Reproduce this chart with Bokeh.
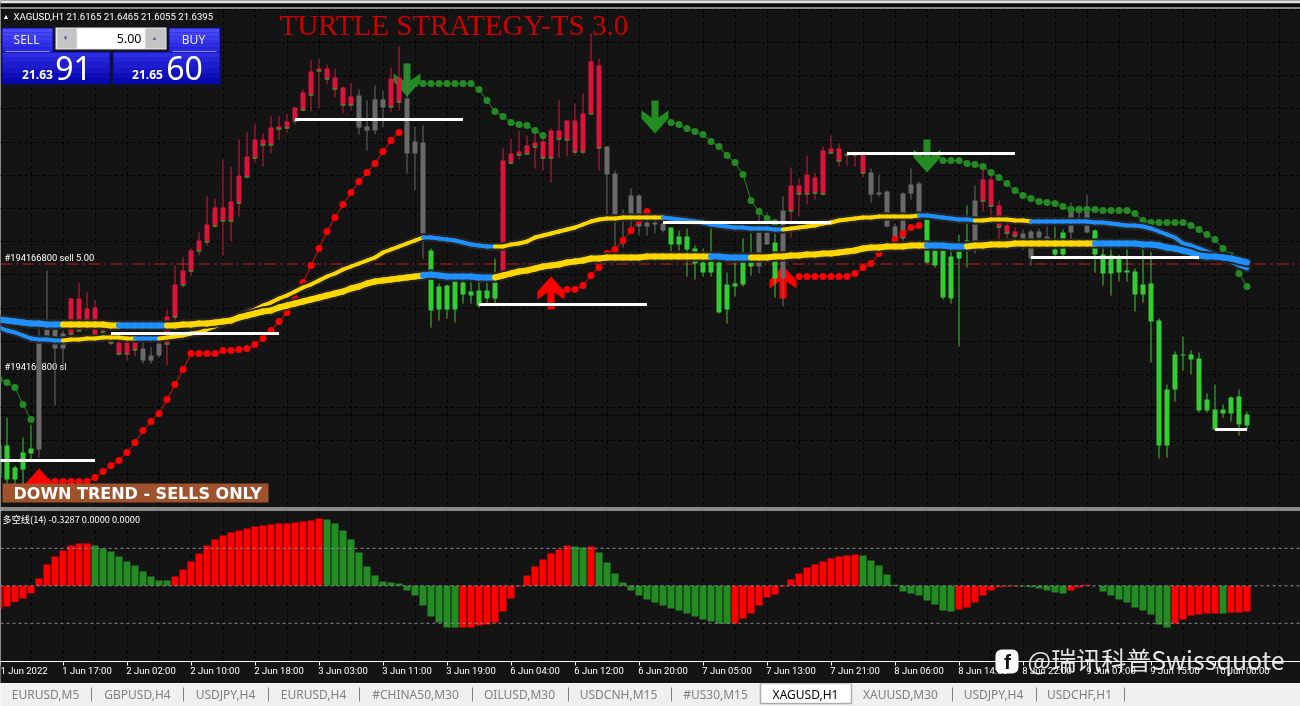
from bokeh.plotting import figure
from bokeh.layouts import column
from bokeh.models import Range1d, FixedTicker, Grid, Span, Label, BoxAnnotation, LinearAxis, AllLabels
from bokeh.embed import file_html
from bokeh.resources import INLINE
import numpy as np

# ---------- data: prices in points above 21.000 USD (1 point = 0.001), bars start at index -1 ----------
body_top = [578,578,534,564,572,796,810,810,802,872,872,852,854,808,798,784,784,784,772,758,782,836,900,928,968,988,1020,1054,1054,1066,1118,1156,1190,1190,1214,1216,1226,1254,1284,1326,1332,1332,1314,1294,1276,1278,1216,1270,1270,1312,1314,1272,1186,1184,968,896,898,906,904,886,888,888,904,1148,1162,1166,1178,1184,1186,1208,1208,1228,1228,1242,1346,1338,1176,1122,1038,1078,1078,1024,1024,1022,1014,996,996,972,944,946,944,900,902,944,944,1004,1004,984,1048,1098,1098,1120,1114,1168,1172,1172,1162,1162,1162,1124,1084,1086,1016,1082,1100,1102,1030,968,968,956,966,988,1068,1110,1110,1058,1018,1006,1002,1006,1006,996,970,1004,1056,1056,1056,1008,960,958,956,928,926,900,902,828,690,760,760,760,752,670,650,650,674,676,640]
body_bot = [514,510,510,530,562,570,796,772,772,802,808,830,800,806,784,762,762,770,748,748,758,782,836,900,928,968,986,1018,1028,1028,1064,1116,1154,1180,1180,1212,1214,1228,1250,1280,1328,1312,1292,1260,1260,1214,1208,1208,1254,1256,1266,1162,1162,1002,848,850,850,850,880,878,858,872,872,924,1144,1160,1162,1176,1154,1154,1192,1190,1166,1166,1242,1174,1120,1040,1028,1040,1016,1016,1020,1008,980,980,970,942,924,924,844,850,896,900,936,936,980,912,912,1048,1082,1082,1084,1082,1164,1148,1160,1160,1124,1080,1080,1016,992,992,1082,1044,944,938,874,872,952,986,986,1068,1058,1016,1004,998,990,952,994,990,960,960,1004,1044,1004,960,922,922,924,924,880,880,826,578,578,690,758,750,648,648,610,642,642,620,618]
wick_high = [588,634,538,594,620,810,928,810,808,872,904,884,870,810,798,784,784,784,784,776,782,850,938,954,972,1004,1076,1072,1150,1136,1190,1204,1222,1202,1236,1236,1242,1254,1290,1348,1352,1340,1332,1296,1304,1290,1268,1298,1288,1334,1376,1342,1216,1218,972,902,900,908,908,904,904,904,952,1172,1192,1208,1198,1204,1204,1212,1268,1228,1262,1282,1402,1352,1176,1128,1050,1092,1080,1028,1026,1024,1014,1008,1012,978,972,1014,952,924,944,992,1002,1054,1044,1002,1076,1134,1112,1158,1124,1176,1198,1182,1166,1166,1166,1132,1120,1088,1022,1084,1132,1106,1030,978,972,966,1000,1058,1098,1144,1130,1068,1038,1014,1010,1010,1012,1016,1016,1010,1064,1058,1080,1010,972,970,960,970,932,990,966,832,700,766,796,768,764,682,700,660,676,690,646]
wick_low = [502,488,488,488,550,554,796,658,728,798,806,808,798,802,778,758,748,756,742,742,754,738,814,894,916,958,978,1014,958,986,1036,1112,1144,1136,1162,1190,1204,1220,1246,1246,1252,1300,1274,1242,1248,1200,1168,1200,1214,1244,1248,1122,1088,952,814,828,832,824,862,862,854,864,862,924,1140,1150,1160,1132,1128,1104,1154,1156,1158,1160,1242,1128,1038,968,974,1012,998,998,1002,1004,966,968,916,910,916,916,842,822,876,896,918,922,980,874,856,994,1036,1060,1070,1078,1160,1136,1138,1136,1114,1064,1076,1014,986,986,1070,1028,942,934,870,862,776,934,962,1046,1038,990,992,990,968,938,990,990,954,954,988,1032,1002,924,898,878,906,906,846,864,744,552,554,666,728,720,644,644,608,634,626,598,610]
candle_kind = "g"*5+"k"*4+"r"*9+"k"*3+"r"*24+"k"*4+"r"*2+"k"*3+"g"*9+"r"*13+"k"*8+"g"*11+"k"*2+"g"+"k"+"r"*10+"k"*7+"g"*6+"k"+"r"*5+"k"*4+"g"*2+"k"*3+"g"*20

ma_thick = [830,828,826,824,822,822,820,820,820,820,820,820,820,820,818,818,818,818,818,818,818,818,818,820,820,822,822,824,826,828,834,838,842,846,848,854,858,862,866,870,874,878,882,886,892,896,902,906,908,910,912,914,916,918,920,918,916,916,916,916,914,914,914,918,922,926,928,932,936,938,940,944,946,948,952,952,954,954,954,954,954,956,956,956,956,956,956,956,956,956,956,954,954,954,954,954,954,956,956,958,958,960,960,962,962,964,966,968,972,974,974,976,976,976,978,978,978,978,978,976,976,976,978,978,980,980,980,982,982,982,982,982,982,982,982,982,982,982,982,982,982,982,982,980,980,978,974,972,968,964,958,956,956,954,952,948,944]
ma_thin = [814,808,804,798,792,790,790,788,788,790,790,792,792,794,794,794,792,792,792,792,792,794,796,798,802,804,810,816,822,830,836,844,850,858,864,872,878,886,894,900,908,916,922,930,936,942,948,954,964,970,976,982,988,994,994,992,990,988,984,980,978,976,976,976,980,982,986,994,998,1002,1006,1010,1014,1020,1026,1030,1032,1032,1034,1034,1034,1034,1034,1034,1032,1030,1028,1026,1024,1020,1018,1016,1014,1014,1012,1012,1012,1010,1010,1012,1014,1016,1018,1022,1024,1028,1030,1032,1034,1034,1036,1036,1036,1036,1036,1038,1038,1036,1034,1032,1030,1030,1028,1028,1030,1030,1030,1028,1028,1026,1026,1026,1026,1026,1026,1026,1026,1024,1024,1022,1020,1018,1018,1016,1012,1006,1000,994,982,978,972,966,960,952,946,938,932]
thick_blue_runs = [(-1,7),(14,20),(52,61),(88,93),(115,120),(136,155)]
thin_blue_runs = [(-1,7),(16,19),(52,61),(82,97),(114,121),(128,155)]

red_trail_1_start = 5
red_trail_1 = [506,506,506,506,506,506,514,526,538,548,564,584,608,626,642,670,700,730,762,762,762,762,768,768,770,772,780,792,808,826,844,872,904,938,972,1006,1034,1060,1084,1106,1124,1142,1166,1188,1204]
red_trail_2_start = 70
red_trail_2 = [890,890,898,918,934,962,970,988,1008,1028,1046]
red_trail_3_start = 99
red_trail_3 = [916,916,916,916,916,916,916,922,934,942,962,978,990,1002,1014,1018]
green_trail_1_start = -1
green_trail_1 = [710,704,694,660,630]
green_trail_2_start = 51
green_trail_2 = [1302,1302,1302,1302,1302,1302,1302,1302,1290,1268,1246,1236,1224,1220,1218,1208,1198]
green_trail_3_start = 83
green_trail_3 = [1224,1220,1212,1206,1200,1186,1176,1158,1144,1120,1068,1046,1032,1024]
green_trail_4_start = 117
green_trail_4 = [1148,1148,1148,1142,1140,1136,1124,1114,1102,1088,1078,1072,1066,1064,1062,1056,1050,1050,1050,1050,1048,1048,1048,1048,1042,1028,1024,1024,1024,1024,1024,1018,1010,1000,990,972,958,922,896]

down_arrow_bar = [50,81,115]
down_arrow_price = [1342,1268,1190]
up_arrow_bar = [4,68,97]
up_arrow_price = [532,916,938]

level_start = [-10,13,36,59,82,105,128,151]
level_end = [11,34,57,80,103,126,149,155]
level_price = [548,802,1230,860,1024,1162,954,610]
order_price = 941
bid_price = 639

osc = [-295,-265,-209,-162,-94,94,273,376,453,517,542,542,517,478,440,376,312,260,184,120,68,68,120,209,312,414,517,594,645,683,709,734,760,773,786,798,798,811,824,837,863,850,798,709,594,427,248,132,56,43,30,-60,-124,-252,-393,-470,-534,-534,-534,-534,-508,-495,-470,-329,-162,-9,132,248,337,414,465,517,504,491,504,427,299,158,43,-60,-124,-175,-214,-252,-290,-316,-354,-393,-431,-457,-487,-487,-483,-418,-354,-252,-149,-111,-9,81,158,235,273,312,350,376,389,401,389,325,260,145,13,-73,-98,-124,-188,-239,-316,-329,-303,-278,-214,-124,-60,-17,-9,-9,-9,-17,-34,-60,-85,-98,-60,-21,13,0,-73,-124,-175,-214,-278,-316,-367,-495,-534,-483,-431,-380,-367,-354,-354,-354,-342,-342,-329]
osc_red_runs = [(-1,10),(21,39),(57,70),(73,73),(91,106),(119,126),(133,135),(146,151),(153,155)]
osc_levels = [480,0,-480]

tick_bars = [-0.8,7,15,23,31,39,47,55,63,71,79,87,95,103,111,119,127,135,143,151]
tick_labels = ["1 Jun 2022","1 Jun 17:00","2 Jun 02:00","2 Jun 10:00","2 Jun 18:00","3 Jun 03:00","3 Jun 11:00","3 Jun 19:00","6 Jun 04:00","6 Jun 12:00","6 Jun 20:00","7 Jun 05:00","7 Jun 13:00","7 Jun 21:00","8 Jun 06:00","8 Jun 14:00","8 Jun 22:00","9 Jun 07:00","9 Jun 15:00","10 Jun 00:00"]
tab_names = ["EURUSD,M5","GBPUSD,H4","USDJPY,H4","EURUSD,H4","#CHINA50,M30","OILUSD,M30","USDCNH,M15","#US30,M15","XAGUSD,H1","XAUUSD,M30","USDJPY,H4","USDCHF,H1"]
tab_centers = [45,137,225,313,415,519,618,715,805,900,993,1079]
tab_separators = [91,183,268,359,472,568,671,952,1036,1124]

BG = "#141414"
RED, GREEN, GRAY = "#DC143C", "#32CD32", "#696969"
YEL, BLUE = "#FFD700", "#1E90FF"

bars = np.arange(-1, 156)
for arr in (body_top, body_bot, wick_high, wick_low, ma_thick, ma_thin, osc):
    assert len(arr) == 157, len(arr)
assert len(candle_kind) == 157

x_range = Range1d(-0.8125, -0.8125 + 1300 / 8)

# helpers turning window pixels into the panes' data space, for chrome only
X = lambda px: px / 8 - 0.8125
Y = lambda py: 1468 - 2 * py
OY = lambda py: (585.3 - py) * 12.81

def box(p, yf, l, r, t, b, color, **kw):
    p.add_layout(BoxAnnotation(left=X(l), right=X(r), top=yf(t), bottom=yf(b), fill_color=color,
                               fill_alpha=kw.pop("alpha", 1), line_color=kw.pop("line", None), **kw))

def txt(p, yf, px, py, s, size, color="white", font="Roboto", style="normal", align="left", level="annotation", alpha=1.0):
    p.add_layout(Label(x=X(px), y=yf(py), text=s, text_font=font, text_font_size=f"{size}px", text_color=color,
                       text_font_style=style, text_align=align, text_baseline="middle", level=level, text_alpha=alpha))

# ---------- main pane ----------
main = figure(width=1300, height=510, x_range=x_range, y_range=Range1d(Y(510), Y(0)), output_backend="svg",
              toolbar_location=None, tools="", x_axis_location=None, y_axis_location=None, min_border=0,
              background_fill_color=BG, border_fill_color=BG, outline_line_color=None)
main.grid.visible = False
main.add_layout(Grid(dimension=0, ticker=FixedTicker(ticks=list(range(3, 160, 4))), grid_line_color="black", grid_line_dash="3 3"))
main.add_layout(Grid(dimension=1, ticker=FixedTicker(ticks=list(np.arange(520.8, 1460, 66.4))), grid_line_color="black", grid_line_dash="3 3"))
main.add_layout(Span(location=order_price, dimension="width", line_color="#C81E1E", line_width=1, line_dash="12 4 2 4", level="underlay"))
main.add_layout(Span(location=bid_price, dimension="width", line_color="black", line_width=1, level="underlay"))

txt(main, Y, 4, 257, "#194166800 sell 5.00", 9.3, level="underlay")
txt(main, Y, 4, 366, "#194166800 sl", 9.3, level="underlay")

# arrows (shape in bars / points around an anchor bar and price)
dn_x = np.array([-3.5,3.5,3.5,13.5,13.5,0,-13.5,-13.5,-3.5]) / 8
dn_y = np.array([0,0,17,10,18,33,18,10,17]) * 2.0
main.patches([list(b + dn_x) for b in down_arrow_bar], [list(v - dn_y) for v in down_arrow_price], fill_color="#228B22", line_color=None)
main.patches([list(b + dn_x) for b in up_arrow_bar], [list(v - 66 + dn_y) for v in up_arrow_price], fill_color="#FF0000", line_color=None)

# candles
colors = {"r": RED, "g": GREEN, "k": GRAY}
cc = [colors[k] for k in candle_kind]
main.segment(bars, wick_low, bars, wick_high, line_color=cc, line_width=1)
main.vbar(bars, 0.625, body_bot, body_top, fill_color=cc, line_color=None)
rr = [i for i, k in enumerate(candle_kind) if k == "r"]
gg = [i for i, k in enumerate(candle_kind) if k == "g"]
main.quad(left=[bars[i] - 0.3125 for i in rr], right=[bars[i] + 0.3125 for i in rr], top=[body_bot[i] for i in rr],
          bottom=[body_bot[i] - 2 for i in rr], fill_color=GREEN, line_color=None)
main.quad(left=[bars[i] - 0.0625 for i in gg], right=[bars[i] + 0.0625 for i in gg], top=[wick_low[i] + 2 for i in gg],
          bottom=[wick_low[i] for i in gg], fill_color="#FF0000", line_color=None)

# trailing dots
for start, vals, col in [(red_trail_1_start, red_trail_1, "#FF0000"), (red_trail_2_start, red_trail_2, "#FF0000"),
                         (red_trail_3_start, red_trail_3, "#FF0000"), (green_trail_1_start, green_trail_1, "#228B22"),
                         (green_trail_2_start, green_trail_2, "#228B22"), (green_trail_3_start, green_trail_3, "#228B22"),
                         (green_trail_4_start, green_trail_4, "#228B22")]:
    xs = list(range(start, start + len(vals)))
    main.line(xs, vals, line_color=col, line_width=1)
    main.scatter(xs, vals, size=7, fill_color=col, line_color=None)

# moving averages
def in_runs(i, runs):
    return any(a <= i <= b for a, b in runs)

for vals, runs, w in [(ma_thin, thin_blue_runs, 4), (ma_thick, thick_blue_runs, 6)]:
    x0, x1 = bars[:-1], bars[1:]
    y0, y1 = vals[:-1], vals[1:]
    main.segment(x0, y0, x1, y1, line_color="#262626", line_width=w + 4, line_cap="round")
    cols = [BLUE if (in_runs(i, runs) and in_runs(i + 1, runs)) else YEL for i in x0]
    main.segment(x0, y0, x1, y1, line_color=cols, line_width=w, line_cap="round")

# white level lines
main.segment(level_start, level_price, level_end, level_price, line_color="white", line_width=3)

# top strip and pane separator
box(main, Y, 0, 1300, 0, 3, "#E4E4E4")
box(main, Y, 0, 1300, 3, 7, "#0A0A0A")
box(main, Y, 0, 1300, 7, 8, "#FFFFFF")
box(main, Y, 0, 1300, 507, 508, "#FFFFFF")
box(main, Y, 0, 1300, 509, 510, "#FFFFFF")

# header texts
txt(main, Y, 2, 16, "▲", 7)
txt(main, Y, 13, 16, "XAGUSD,H1  21.6165 21.6465 21.6055 21.6395", 9.6)
txt(main, Y, 279, 24, "TURTLE STRATEGY-TS 3.0", 29, color="#CC0000", font="Liberation Serif")

# one click trading panel
def gradient(l, r, t, b, c0, c1, n=6):
    c0 = np.array(c0); c1 = np.array(c1)
    for k in range(n):
        c = c0 + (c1 - c0) * k / (n - 1)
        box(main, Y, l, r, t + (b - t) * k / n, t + (b - t) * (k + 1) / n, "#%02x%02x%02x" % tuple(int(v) for v in c))

box(main, Y, 1, 53, 27, 52, "#0A0A90")
box(main, Y, 1, 110, 51, 84, "#0A0A90")
box(main, Y, 168, 220, 27, 52, "#0A0A90")
box(main, Y, 112, 220, 51, 84, "#0A0A90")
gradient(2, 52, 28, 51, (74, 74, 246), (40, 40, 226))
gradient(169, 219, 28, 51, (74, 74, 246), (40, 40, 226))
gradient(2, 109, 52, 83, (44, 44, 226), (8, 8, 176))
gradient(113, 219, 52, 83, (44, 44, 226), (8, 8, 176))
box(main, Y, 5, 49, 50.5, 51.5, "#9090E8")
box(main, Y, 172, 216, 50.5, 51.5, "#9090E8")
box(main, Y, 55, 166, 27, 49, "#E8E8E8")
box(main, Y, 57, 76, 28, 48, "#C4C4C4")
box(main, Y, 145, 165, 28, 48, "#C4C4C4")
box(main, Y, 77, 144, 28, 48, "#FFFFFF")
txt(main, Y, 26, 39, "SELL", 12, align="center", color="#E8E8FF", font="Noto Sans")
txt(main, Y, 193, 39, "BUY", 12, align="center", color="#E8E8FF", font="Noto Sans")
txt(main, Y, 141, 37.5, "5.00", 12.5, color="black", align="right", font="Noto Sans")
txt(main, Y, 65, 37, "▼", 6, color="#5060A8", align="center")
txt(main, Y, 154, 37, "▲", 6, color="#5060A8", align="center")
txt(main, Y, 37, 74, "21.63", 12, style="bold", align="center", font="Noto Sans")
txt(main, Y, 73, 67, "91", 32, align="center", font="Noto Sans")
txt(main, Y, 147, 74, "21.65", 12, style="bold", align="center", font="Noto Sans")
txt(main, Y, 184, 67, "60", 32, align="center", font="Noto Sans")

# banner
box(main, Y, 2, 268, 483, 502, "#A0522D")
txt(main, Y, 13, 492.5, "DOWN TREND - SELLS ONLY", 16, font="DejaVu Sans", style="bold")

# ---------- indicator pane ----------
sub = figure(width=1300, height=173, x_range=x_range, y_range=Range1d(OY(683), OY(510)), output_backend="svg",
             toolbar_location=None, tools="", x_axis_location=None, y_axis_location=None, min_border=0,
             background_fill_color=BG, border_fill_color=BG, outline_line_color=None)
sub.grid.visible = False
sub.add_layout(Grid(dimension=0, ticker=FixedTicker(ticks=list(range(3, 160, 4))), grid_line_color="black", grid_line_dash="3 3"))
# mask the grid below the time axis
sub.quad(left=[x_range.start], right=[x_range.end], top=[OY(661)], bottom=[OY(683)], fill_color=BG, line_color=None)

# time axis: one axis carries the tick marks, a second one the labels, which start at their tick
label_half_width = [2.6] + [3.0] * 18 + [3.4]
label_bars = [t + h for t, h in zip(tick_bars, label_half_width)]
tick_axis = LinearAxis(fixed_location=OY(661), ticker=FixedTicker(ticks=tick_bars), major_label_text_color=None,
                       major_label_text_font_size="1px", axis_line_color="white", major_tick_line_color="white",
                       major_tick_in=0, major_tick_out=4, minor_tick_line_color=None)
sub.add_layout(tick_axis, "below")
label_axis = LinearAxis(fixed_location=OY(661), ticker=FixedTicker(ticks=label_bars),
                        major_label_overrides=dict(zip(label_bars, tick_labels)), major_label_policy=AllLabels(),
                        major_label_text_color="white", major_label_text_font="Roboto", major_label_text_font_size="9.5px",
                        major_label_standoff=3, axis_line_color=None, major_tick_line_color=None,
                        major_tick_in=0, major_tick_out=0, minor_tick_line_color=None)
sub.add_layout(label_axis, "below")

osc_colors = ["#FF0000" if in_runs(i, osc_red_runs) else "#228B22" for i in bars]
sub.vbar(bars, 0.875, 0, osc, fill_color=osc_colors, line_color=None)
for lv in osc_levels:
    sub.add_layout(Span(location=lv, dimension="width", line_color="#8C8C96", line_width=1, line_dash="3 3"))
txt(sub, OY, 2, 518.5, "多空线(14) -0.3287 0.0000 0.0000", 9.2, font="Noto Sans CJK SC")

# watermark
box(sub, OY, 995, 1018, 649, 673, "#FFFFFF", border_radius=6)
txt(sub, OY, 1007, 661, "f", 21, color="#141414", font="Liberation Sans", style="bold", align="center")
txt(sub, OY, 1027, 658, "@瑞讯科普Swissquote", 25, font="Noto Sans CJK SC", alpha=0.88)

# ---------- tab bar ----------
tabs = figure(width=1300, height=23, x_range=Range1d(0, 1300), y_range=Range1d(23, 0), output_backend="svg",
              toolbar_location=None, tools="", x_axis_location=None, y_axis_location=None, min_border=0,
              background_fill_color="#F0F0F0", border_fill_color="#F0F0F0", outline_line_color=None)
tabs.grid.visible = False
tabs.add_layout(BoxAnnotation(left=760, right=851, top=0, bottom=20, fill_color="white", fill_alpha=1, line_color="black", line_width=1.5))
tabs.segment(tab_separators, [4] * len(tab_separators), tab_separators, [18] * len(tab_separators), line_color="#808080", line_width=1)
for name, cx in zip(tab_names, tab_centers):
    active = name == "XAGUSD,H1"
    tabs.add_layout(Label(x=cx, y=11, text=name, text_font="Noto Sans", text_font_size="12px", text_align="center",
                          text_baseline="middle", text_color="black" if active else "#808080"))

page = column(main, sub, tabs, spacing=0, styles={"position": "fixed", "left": "0", "top": "0"})
open("out.html", "w").write(file_html(page, INLINE))
